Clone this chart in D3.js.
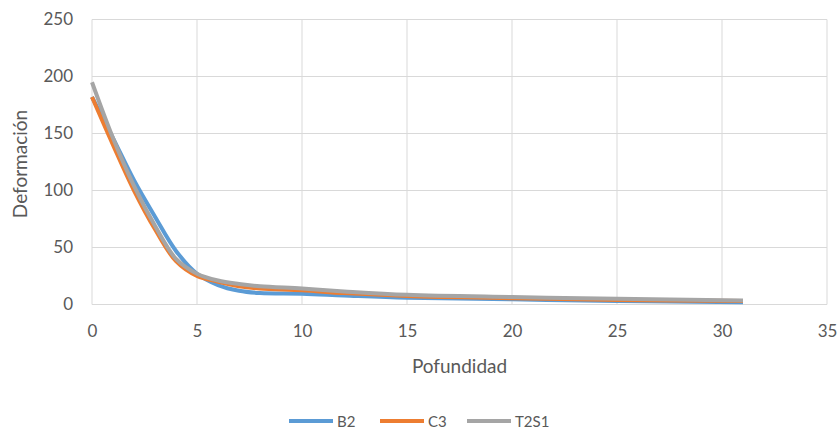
<!DOCTYPE html>
<html><head><meta charset="utf-8">
<script src="https://cdn.jsdelivr.net/npm/d3@7"></script>
<style>body{margin:0;background:#fff}svg{font-family:Lato,"Open Sans",sans-serif}</style>
</head><body><svg id="c" width="838" height="436"></svg>
<script>
const depths = [0,1,2,3,4,5,6,7,8,10,12,15,20,25,31];
const B2   = [182,146,109,77,47,27,17,12,10,9.5,8,6,4.5,3,2];
const C3   = [182,140,100,66,38,25,20,16,14,12.5,10,7.5,5.5,4,3];
const T2S1 = [195,146,104,69,40,27,21,18,16,14,11.5,8.5,6.5,5,3.5];
const seriesNames = ["B2","C3","T2S1"];
const colors = ["#5B9BD5","#ED7D31","#A5A5A5"];
const xTicks = [0,5,10,15,20,25,30,35];
const yTicks = [0,50,100,150,200,250];

const svg = d3.select("#c");
const x = d3.scaleLinear().domain([0,35]).range([92,827]);
const y = d3.scaleLinear().domain([0,250]).range([304.5,19.5]);
const txt = "#595959";

svg.append("g").selectAll("line").data(yTicks).join("line")
  .attr("x1",x(0)).attr("x2",x(35)).attr("y1",d=>y(d)).attr("y2",d=>y(d))
  .attr("stroke","#D9D9D9").attr("stroke-width",1);
svg.append("g").selectAll("line").data(xTicks).join("line")
  .attr("y1",y(0)).attr("y2",y(250)).attr("x1",d=>x(d)).attr("x2",d=>x(d))
  .attr("stroke","#D9D9D9").attr("stroke-width",1);

const ya = svg.append("g").attr("transform","translate(73,0)")
  .call(d3.axisLeft(y).tickValues(yTicks).tickSize(0).tickPadding(0));
ya.select(".domain").remove();
ya.selectAll("text").attr("fill",txt).style("font-size","17px").style("font-family","Lato,sans-serif");
const xa = svg.append("g").attr("transform","translate(0,325)")
  .call(d3.axisBottom(x).tickValues(xTicks).tickSize(0).tickPadding(0));
xa.select(".domain").remove();
xa.selectAll("text").attr("fill",txt).style("font-size","17px").style("font-family","Lato,sans-serif");

svg.append("text").attr("x",459.5).attr("y",373).attr("text-anchor","middle")
  .attr("fill",txt).style("font-size","19px").text("Pofundidad");
svg.append("text").attr("transform","translate(27,164) rotate(-90)").attr("text-anchor","middle")
  .attr("fill",txt).style("font-size","19px").text("Deformación");

const data = [B2,C3,T2S1];
const line = d3.line().x((d,i)=>x(depths[i])).y(d=>y(d)).curve(d3.curveCatmullRom.alpha(0.5));
data.forEach((s,k)=>{
  svg.append("path").datum(s).attr("d",line).attr("fill","none")
    .attr("stroke",colors[k]).attr("stroke-width",4).attr("stroke-linejoin","round");
});

const lx = [289,380,467];
seriesNames.forEach((n,k)=>{
  svg.append("line").attr("x1",lx[k]).attr("x2",lx[k]+44).attr("y1",421).attr("y2",421)
    .attr("stroke",colors[k]).attr("stroke-width",4);
  svg.append("text").attr("x",lx[k]+48).attr("y",426.5).attr("fill",txt)
    .style("font-size","15px").text(n);
});
</script></body></html>
